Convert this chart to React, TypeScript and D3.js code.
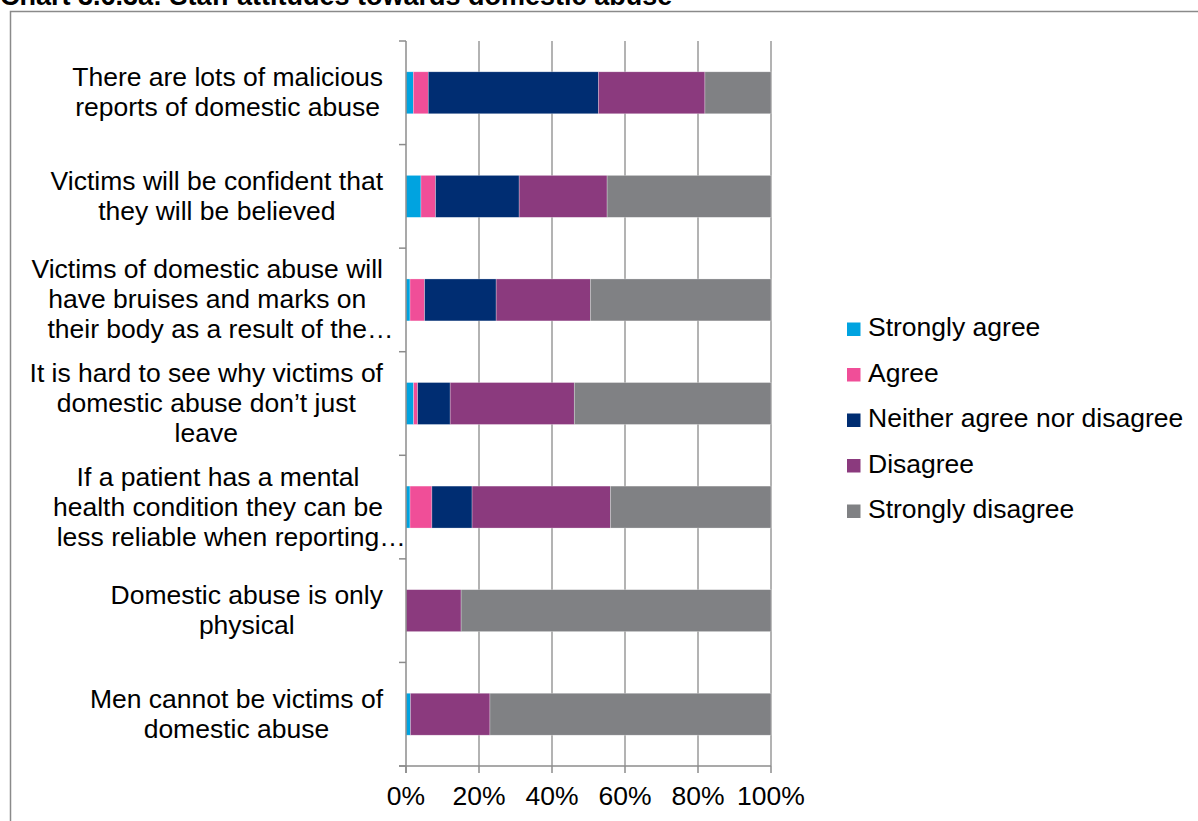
import React, { useEffect, useRef } from "react";
import * as d3 from "d3";

const categoryLines: string[][] = [
  ["There are lots of malicious", "reports of domestic abuse"],
  ["Victims will be confident that", "they will be believed"],
  ["Victims of domestic abuse will", "have bruises and marks on", "their body as a result of the…"],
  ["It is hard to see why victims of", "domestic abuse don’t just", "leave"],
  ["If a patient has a mental", "health condition they can be", "less reliable when reporting…"],
  ["Domestic abuse is only", "physical"],
  ["Men cannot be victims of", "domestic abuse"],
];

const seriesNames = ["Strongly agree", "Agree", "Neither agree nor disagree", "Disagree", "Strongly disagree"];
const seriesColors = ["#00A3E0", "#F04E98", "#002D72", "#8B3A7E", "#808184"];

const stronglyAgree = [2.0, 4.1, 1.1, 2.1, 1.1, 0, 1.2];
const agree = [4.1, 4.0, 4.0, 1.1, 6.0, 0, 0];
const neither = [46.6, 22.9, 19.6, 8.9, 11.0, 0, 0];
const disagree = [29.2, 24.1, 25.8, 34.0, 37.9, 15.1, 21.8];
const stronglyDisagree = [18.1, 44.9, 49.5, 53.9, 44.0, 84.9, 77.0];

const xTicks = [0, 20, 40, 60, 80, 100];
const title = "Chart 3.6.3a: Staff attitudes towards domestic abuse";

export default function App() {
  const ref = useRef<SVGSVGElement | null>(null);

  useEffect(() => {
    const svg = d3.select(ref.current);
    svg.selectAll("*").remove();
    const font = "Liberation Sans, Arial, sans-serif";
    const fs = 26.5;

    const left = 406, right = 771, top = 41, bottom = 766;
    const x = d3.scaleLinear().domain([0, 100]).range([left, right]);
    const idx = categoryLines.map((_, i) => String(i));
    const y = d3.scaleBand<string>().domain(idx).range([top, bottom]).paddingInner(0.595).paddingOuter(0.2975);
    const slot = d3.scaleBand<string>().domain(idx).range([top, bottom]);

    // frame
    svg.append("rect").attr("x", 10.5).attr("y", 11.5).attr("width", 1300).attr("height", 900)
      .attr("fill", "white").attr("stroke", "#8a8a8a").attr("stroke-width", 1.5);

    // title
    svg.append("text").attr("x", 0).attr("y", 5).attr("font-family", font).attr("font-weight", "bold")
      .attr("font-size", 27).attr("fill", "#000").text(title);

    // gridlines
    svg.append("g").selectAll("line").data(xTicks.filter(t => t > 0)).join("line")
      .attr("x1", d => x(d)).attr("x2", d => x(d)).attr("y1", top).attr("y2", bottom)
      .attr("stroke", "#9a9a9a").attr("stroke-width", 1.5);

    // bars
    const series = [stronglyAgree, agree, neither, disagree, stronglyDisagree];
    const rows = idx.map((k, i) => {
      const o: any = { key: k };
      seriesNames.forEach((s, j) => (o[s] = series[j][i]));
      return o;
    });
    const stacked = d3.stack().keys(seriesNames)(rows);
    const gBars = svg.append("g");
    stacked.forEach((layer, j) => {
      gBars.append("g").attr("fill", seriesColors[j]).selectAll("rect").data(layer).join("rect")
        .attr("x", d => x(d[0])).attr("width", d => Math.max(0, x(d[1]) - x(d[0])))
        .attr("y", d => y((d.data as any).key)!).attr("height", y.bandwidth())
        .attr("stroke", d => (d[1] - d[0] > 0 ? "rgba(255,255,255,0.45)" : "none")).attr("stroke-width", 0.6);
    });

    // category axis
    const axisColor = "#8c8c8c";
    svg.append("line").attr("x1", left).attr("x2", left).attr("y1", top).attr("y2", bottom + 7)
      .attr("stroke", axisColor).attr("stroke-width", 1.5);
    const catTicks = idx.map(k => slot(k)!).concat([bottom]);
    svg.append("g").selectAll("line").data(catTicks).join("line")
      .attr("x1", left - 7).attr("x2", left).attr("y1", d => d).attr("y2", d => d)
      .attr("stroke", axisColor).attr("stroke-width", 1.5);

    // value axis
    svg.append("line").attr("x1", left - 7).attr("x2", right).attr("y1", bottom).attr("y2", bottom)
      .attr("stroke", axisColor).attr("stroke-width", 1.5);
    svg.append("g").selectAll("line").data(xTicks).join("line")
      .attr("x1", d => x(d)).attr("x2", d => x(d)).attr("y1", bottom).attr("y2", bottom + 7)
      .attr("stroke", axisColor).attr("stroke-width", 1.5);
    svg.append("g").selectAll("text").data(xTicks).join("text")
      .attr("x", d => x(d)).attr("y", 805).attr("text-anchor", "middle")
      .attr("font-family", font).attr("font-size", fs).attr("fill", "#000").text(d => d + "%");

    // category labels
    const labelRight = 383;
    const lh = 30;
    categoryLines.forEach((lines, i) => {
      const cy = slot(String(i))! + slot.bandwidth() / 2;
      const g = svg.append("g");
      const texts = lines.map((ln, li) => {
        const base = ln.replace(/…$/, "");
        const t = g.append("text").attr("font-family", font).attr("font-size", fs).attr("fill", "#000")
          .attr("y", cy + (li - (lines.length - 1) / 2) * lh + 8.5).text(base);
        const w = (t.node() as SVGTextElement).getComputedTextLength();
        t.text(ln);
        return { t, w };
      });
      const maxW = d3.max(texts, d => d.w)!;
      const center = labelRight - maxW / 2;
      texts.forEach(({ t, w }) => t.attr("x", center - w / 2));
    });

    // legend
    const lg = svg.append("g");
    seriesNames.forEach((s, j) => {
      const by = 336 + j * 45.5;
      lg.append("rect").attr("x", 847).attr("y", by - 13.5).attr("width", 13.5).attr("height", 13.5)
        .attr("fill", seriesColors[j]);
      lg.append("text").attr("x", 868).attr("y", by).attr("font-family", font).attr("font-size", fs)
        .attr("fill", "#000").text(s);
    });
  }, []);

  return (
    <div style={{ position: "absolute", left: 0, top: 0 }}>
      <svg ref={ref} width={1198} height={821} style={{ display: "block", background: "white" }} />
    </div>
  );
}
